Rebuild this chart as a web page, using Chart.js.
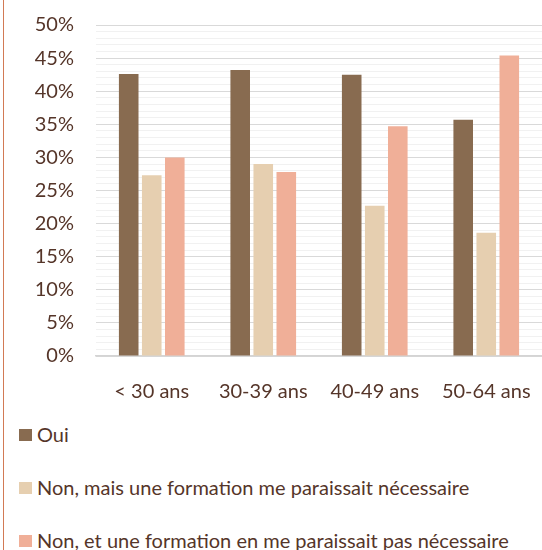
<!DOCTYPE html>
<html>
<head>
<meta charset="utf-8">
<script src="https://cdn.jsdelivr.net/npm/chart.js@4/dist/chart.umd.min.js"></script>
<style>
    body { margin: 0; background: #fff; }
    #wrap { position: relative; width: 542px; height: 550px; overflow: hidden; }
    #edge { position: absolute; left: 3px; top: 0; width: 1px; height: 550px; background: #d27a55; }
    #chart { position: absolute; left: 0; top: 0; }
    #legend { position: absolute; left: 19px; top: 422px; font-family: Lato, sans-serif; font-size: 20px; color: #553529; }
    .item { height: 53px; display: flex; align-items: flex-start; }
    .box { width: 13px; height: 12px; margin-top: 7px; margin-right: 5px; }
</style>
</head>
<body>
<div id="wrap">
    <div id="edge"></div>
    <canvas id="chart" width="542" height="400"></canvas>
    <div id="legend"></div>
</div>
<script>
const categories = ["< 30 ans", "30-39 ans", "40-49 ans", "50-64 ans"];
const seriesNames = [
    "Oui",
    "Non, mais une formation me paraissait nécessaire",
    "Non, et une formation en me paraissait pas nécessaire"
];
const oui = [42.6, 43.2, 42.5, 35.7];
const nonMais = [27.3, 29.0, 22.7, 18.6];
const nonEt = [30.0, 27.8, 34.7, 45.4];
const colors = ["#886b50", "#e6cfb0", "#f0af98"];

Chart.defaults.font.family = "Lato";
Chart.defaults.font.size = 20;
Chart.defaults.color = "#553529";

const ctx = document.getElementById("chart").getContext("2d");

const chart = new Chart(ctx, {
    type: "bar",
    data: {
        labels: categories,
        datasets: [oui, nonMais, nonEt].map((values, i) => ({
            label: seriesNames[i],
            data: values,
            backgroundColor: colors[i],
            barPercentage: 0.85,
            categoryPercentage: 0.62
        }))
    },
    options: {
        responsive: false,
        animation: false,
        layout: { padding: { top: 25, right: 0, bottom: 0, left: 0 } },
        plugins: {
            legend: { display: false },
            tooltip: { enabled: false }
        },
        scales: {
            x: {
                grid: { display: false },
                border: { color: "#d4d4d4", width: 1.5 },
                ticks: { padding: 16 },
                afterFit: scale => {
                    scale.height = 44;
                    scale.paddingLeft = 0;
                    scale.paddingRight = 0;
                }
            },
            y: {
                min: 0,
                max: 50,
                border: { display: false },
                grid: {
                    drawTicks: false,
                    color: c => (c.tick.value % 5 === 0 ? "#d9d9d9" : "#f1f1f1")
                },
                ticks: {
                    stepSize: 1,
                    padding: 22,
                    autoSkip: false,
                    callback: v => (v % 5 === 0 ? v + "%" : "")
                },
                afterFit: scale => {
                    scale.width = 96;
                    scale.paddingTop = 0;
                    scale.paddingBottom = 0;
                }
            }
        }
    }
});

// legend, one entry per row
const legend = document.getElementById("legend");
chart.data.datasets.forEach(ds => {
    const row = document.createElement("div");
    row.className = "item";
    const box = document.createElement("span");
    box.className = "box";
    box.style.background = ds.backgroundColor;
    const txt = document.createElement("span");
    txt.textContent = ds.label;
    row.appendChild(box);
    row.appendChild(txt);
    legend.appendChild(row);
});
</script>
</body>
</html>
